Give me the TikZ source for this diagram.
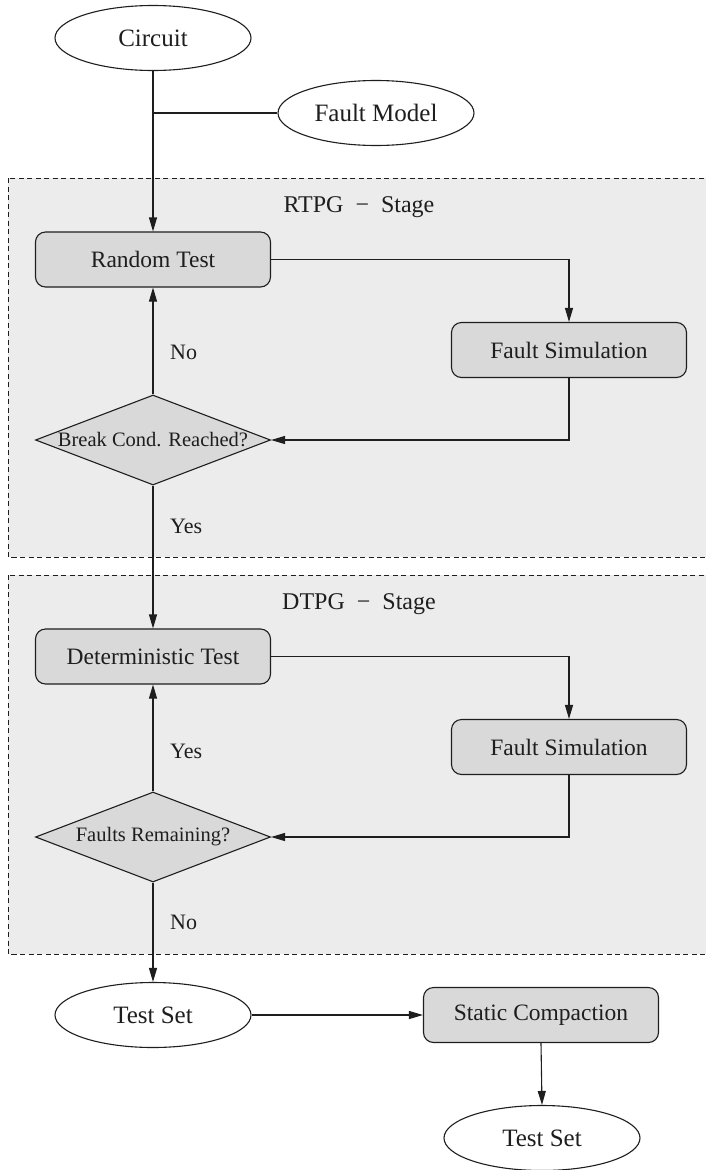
\documentclass[tikz,border=0pt]{standalone}
\usepackage{fontspec}
\setmainfont{Liberation Serif}
\usetikzlibrary{shapes.geometric,arrows.meta}
\definecolor{linecol}{HTML}{1E1E1E}
\definecolor{textcol}{HTML}{1E1E1E}
\definecolor{boxfill}{HTML}{D9D9D9}
\definecolor{stagefill}{HTML}{ECECEC}
\begin{document}
\begin{tikzpicture}[x=1pt,y=-1pt,
  line/.style={draw=linecol, line width=1.1pt},
  arr/.style={line, -{Triangle[length=14pt,width=8pt]}},
  term/.style={ellipse, draw=linecol, line width=1.1pt, fill=white,
    minimum width=196pt, minimum height=65pt, inner sep=0pt,
    font=\fontsize{25}{30}\selectfont, text=textcol},
  proc/.style={rectangle, rounded corners=10pt, draw=linecol, line width=1.1pt,
    fill=boxfill, minimum width=235pt, minimum height=55pt, inner sep=0pt,
    font=\fontsize{23.5}{28}\selectfont, text=textcol},
  decision/.style={diamond, aspect=2.61, draw=linecol, line width=1.1pt,
    fill=boxfill, minimum width=235pt, minimum height=90pt, inner sep=0pt,
    font=\fontsize{20.5}{24}\selectfont, text=textcol},
  stagebox/.style={draw=linecol, line width=0.9pt, dash pattern=on 5pt off 3.5pt,
    fill=stagefill},
  lbl/.style={anchor=west, inner sep=0pt, font=\fontsize{22}{26}\selectfont, text=textcol},
  stagelbl/.style={inner sep=0pt, font=\fontsize{24}{28}\selectfont, text=textcol}
]
\useasboundingbox (0,0) rectangle (705,1170);

% stage backgrounds
\path[stagebox] (8,178) rectangle (712,557);
\path[stagebox] (8,575) rectangle (712,954);
\node[stagelbl] (rtpglbl) at (359,207) {RTPG~~−~~Stage};
\node[stagelbl] (dtpglbl) at (359,604) {DTPG~~−~~Stage};

% inputs
\node[term] (circ) at (153,38) {Circuit};
\node[term] (fm) at (376,113) {Fault Model};
\coordinate (j) at (153,113);

% random stage
\node[proc] (rt) at (153,259.5) {Random Test};
\node[proc] (fs1) at (569,350) {Fault Simulation};
\node[decision] (d1) at (153,440) {Break Cond. Reached?};

% deterministic stage
\node[proc] (dt) at (153,656.5) {Deterministic Test};
\node[proc] (fs2) at (569,747) {Fault Simulation};
\node[decision] (d2) at (153,837) {Faults Remaining?};

% outputs
\node[term] (ts1) at (153,1015) {Test Set};
\node[proc] (sc) at (541,1015) {Static Compaction};
\node[term] (ts2) at (542,1138) {Test Set};

% connectors
\draw[line] (circ.south) -- (j);
\draw[line] (j) -- (fm.west);
\draw[arr] (j) -- (rt.north);
\draw[arr] (rt.east) -| (fs1.north);
\draw[arr] (fs1.south) |- (d1.east);
\draw[arr] (d1.north) -- (rt.south);
\draw[arr] (d1.south) -- (dt.north);
\draw[arr] (dt.east) -| (fs2.north);
\draw[arr] (fs2.south) |- (d2.east);
\draw[arr] (d2.north) -- (dt.south);
\draw[arr] (d2.south) -- (ts1.north);
\draw[arr] (ts1.east) -- (sc.west);
\draw[arr] (sc.south) -- (ts2.north);

% branch labels
\node[lbl] (no1) at (170,352) {No};
\node[lbl] (yes1) at (170,526) {Yes};
\node[lbl] (yes2) at (170,751) {Yes};
\node[lbl] (no2) at (170,922) {No};
\end{tikzpicture}
\end{document}
